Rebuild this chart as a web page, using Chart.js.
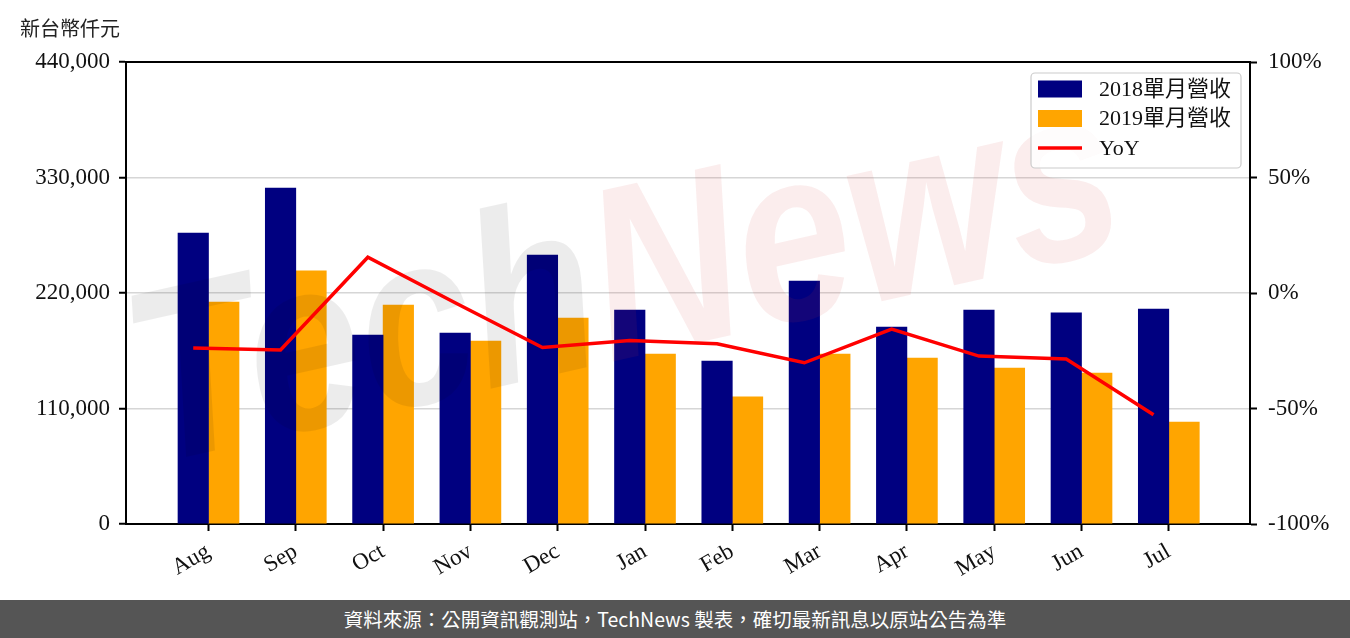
<!DOCTYPE html>
<html>
<head>
<meta charset="utf-8">
<script src="https://cdn.jsdelivr.net/npm/chart.js@4.4.1/dist/chart.umd.min.js"></script>
<style>
  html, body { margin: 0; padding: 0; background: #fff; }
  #wrap { position: relative; width: 1350px; height: 600px; }
  #footer {
    width: 1350px; height: 38px; background: #555555; color: #fff;
    font: 19.5px "Noto Sans CJK TC", "Noto Sans", sans-serif;
    text-align: center; line-height: 38px;
  }
</style>
</head>
<body>
<div id="wrap"><canvas id="revChart"></canvas></div>
<div id="footer">資料來源：公開資訊觀測站，TechNews 製表，確切最新訊息以原站公告為準</div>
<script>
// Monthly revenue, NT$ thousand
const months = ['Aug', 'Sep', 'Oct', 'Nov', 'Dec', 'Jan', 'Feb', 'Mar', 'Apr', 'May', 'Jun', 'Jul'];
const rev2018 = [277100, 320000, 180000, 181900, 256200, 203800, 155200, 231400, 187600, 203800, 201000, 204800];
const rev2019 = [211400, 241000, 208600, 174300, 196200, 161900, 121000, 161900, 158100, 148600, 143800, 97100];
const yoy = [-23.8, -24.7, 15.5, -4.2, -23.6, -20.6, -22.0, -30.2, -15.6, -27.3, -28.6, -52.7];

const leftTicks = [0, 110000, 220000, 330000, 440000];
const rightTicks = [-100, -50, 0, 50, 100];
const seriesLabels = ['2018單月營收', '2019單月營收', 'YoY'];

const SERIF = '"Liberation Serif", "Noto Sans CJK TC", serif';
const CJK = '"Noto Sans CJK TC", "Noto Sans", sans-serif';

// x range of the plot, in category units (matches the reference margins)
const X_MIN = -0.945;
const X_MAX = 11.93;
// the YoY line sits over the centre of the 2018 bar
const LINE_SHIFT = -0.175;

const toXY = (arr, shift = 0) => arr.map((v, i) => ({ x: i + shift, y: v }));

// Faint "TechNews" watermark, drawn over the bars but under the YoY line
const watermark = {
  id: 'watermark',
  afterDatasetDraw(chart, args) {
    if (args.index !== 0) return;
    const { ctx, chartArea: a } = chart;
    ctx.save();
    ctx.beginPath();
    ctx.rect(a.left, a.top, a.right - a.left, a.bottom - a.top);
    ctx.clip();
    ctx.translate(150, 465);
    ctx.rotate(-0.22);
    ctx.scale(1, 1.2);
    ctx.font = 'italic bold 205px "Liberation Sans", sans-serif';
    ctx.textBaseline = 'alphabetic';
    ctx.fillStyle = 'rgba(0, 0, 0, 0.075)';
    ctx.fillText('Tech', 0, 0);
    const w = ctx.measureText('Tech').width;
    ctx.fillStyle = 'rgba(215, 50, 50, 0.09)';
    ctx.fillText('News', w, 0);
    ctx.restore();
  }
};

// Frame, unit title and legend box
const decorations = {
  id: 'decorations',
  afterDraw(chart) {
    const { ctx, chartArea: a } = chart;
    ctx.save();

    // top spine
    ctx.strokeStyle = '#000';
    ctx.lineWidth = 2;
    ctx.beginPath();
    ctx.moveTo(a.left, a.top);
    ctx.lineTo(a.right, a.top);
    ctx.stroke();

    // unit
    ctx.fillStyle = '#222';
    ctx.font = '20px ' + CJK;
    ctx.textBaseline = 'middle';
    ctx.textAlign = 'left';
    ctx.fillText('新台幣仟元', 20, 28);

    // legend
    const bx = 1031, by = 73, bw = 210, bh = 95;
    ctx.fillStyle = 'rgba(255, 255, 255, 0.8)';
    ctx.strokeStyle = '#cccccc';
    ctx.lineWidth = 1.2;
    ctx.beginPath();
    ctx.roundRect(bx, by, bw, bh, 4);
    ctx.fill();
    ctx.stroke();

    const rows = [89, 118.5, 148];
    const ds = chart.data.datasets;
    ctx.font = '22px ' + SERIF;
    rows.forEach((y, i) => {
      if (ds[i].type === 'line') {
        ctx.strokeStyle = ds[i].borderColor;
        ctx.lineWidth = 3.5;
        ctx.beginPath();
        ctx.moveTo(1038, y);
        ctx.lineTo(1082, y);
        ctx.stroke();
      } else {
        ctx.fillStyle = ds[i].backgroundColor;
        ctx.fillRect(1038, y - 8.5, 44, 17);
      }
      ctx.fillStyle = '#111';
      ctx.fillText(ds[i].label, 1099, y + 1);
    });

    ctx.restore();
  }
};

const ctx = document.getElementById('revChart').getContext('2d');

new Chart(ctx, {
  type: 'bar',
  data: {
    datasets: [
      {
        label: seriesLabels[0],
        data: toXY(rev2018),
        backgroundColor: '#000080',
        barThickness: 30.5,
        yAxisID: 'y'
      },
      {
        label: seriesLabels[1],
        data: toXY(rev2019),
        backgroundColor: '#FFA500',
        barThickness: 30.5,
        yAxisID: 'y'
      },
      {
        type: 'line',
        label: seriesLabels[2],
        data: toXY(yoy, LINE_SHIFT),
        borderColor: '#FF0000',
        borderWidth: 3.5,
        pointRadius: 0,
        tension: 0,
        order: -1,
        yAxisID: 'y1'
      }
    ]
  },
  options: {
    responsive: true,
    maintainAspectRatio: false,
    animation: false,
    layout: { padding: { top: 62, left: 0, right: 0, bottom: 0 } },
    plugins: {
      legend: { display: false },
      tooltip: { enabled: false }
    },
    scales: {
      x: {
        type: 'linear',
        min: X_MIN,
        max: X_MAX,
        offset: false,
        afterBuildTicks: scale => { scale.ticks = months.map((m, i) => ({ value: i })); },
        afterFit: scale => { scale.height = 76; },
        ticks: {
          autoSkip: false,
          minRotation: 30,
          maxRotation: 30,
          padding: 7,
          color: '#111',
          font: { family: SERIF, size: 23 },
          callback: v => months[v]
        },
        grid: {
          offset: false,
          drawOnChartArea: false,
          tickColor: '#000',
          tickWidth: 2,
          tickLength: 7
        },
        border: { color: '#000', width: 2 }
      },
      y: {
        position: 'left',
        min: 0,
        max: 440000,
        afterBuildTicks: scale => { scale.ticks = leftTicks.map(v => ({ value: v })); },
        afterFit: scale => { scale.width = 126; },
        ticks: {
          padding: 9,
          color: '#111',
          font: { family: SERIF, size: 23 },
          callback: v => v.toLocaleString('en-US')
        },
        grid: {
          color: '#d6d6d6',
          lineWidth: 1.5,
          tickColor: '#000',
          tickWidth: 2,
          tickLength: 7
        },
        border: { color: '#000', width: 2 }
      },
      y1: {
        position: 'right',
        min: -100,
        max: 100,
        afterBuildTicks: scale => { scale.ticks = rightTicks.map(v => ({ value: v })); },
        afterFit: scale => { scale.width = 100; },
        ticks: {
          padding: 11,
          color: '#111',
          font: { family: SERIF, size: 23 },
          callback: v => v + '%'
        },
        grid: {
          drawOnChartArea: false,
          tickColor: '#000',
          tickWidth: 2,
          tickLength: 7
        },
        border: { color: '#000', width: 2 }
      }
    }
  },
  plugins: [watermark, decorations]
});
</script>
</body>
</html>
